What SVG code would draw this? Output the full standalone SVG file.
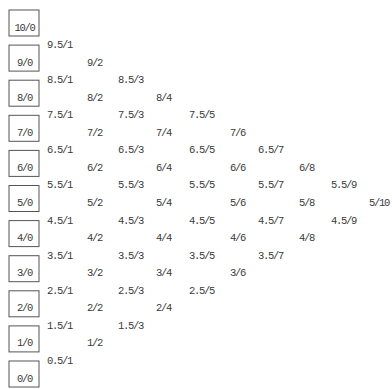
<svg xmlns="http://www.w3.org/2000/svg" width="392" height="389" viewBox="0 0 392 389">
<style>
text{font-family:"Liberation Mono","DejaVu Sans Mono",monospace;font-size:10.5px;letter-spacing:-1.3px;fill:#3a3a3a}
.box rect{fill:#fff;stroke:#555;stroke-width:1}
.box text{text-anchor:middle}
</style>
<rect width="392" height="389" fill="#fff"/>
<g id="boxes">
<g id="n10_0" class="box"><rect x="9" y="10" width="30" height="26"/><text x="24.5" y="30.5">10/0</text></g>
<g id="n9_0" class="box"><rect x="9" y="45.1" width="30" height="26"/><text x="24.5" y="65.6">9/0</text></g>
<g id="n8_0" class="box"><rect x="9" y="80.2" width="30" height="26"/><text x="24.5" y="100.7">8/0</text></g>
<g id="n7_0" class="box"><rect x="9" y="115.3" width="30" height="26"/><text x="24.5" y="135.8">7/0</text></g>
<g id="n6_0" class="box"><rect x="9" y="150.4" width="30" height="26"/><text x="24.5" y="170.9">6/0</text></g>
<g id="n5_0" class="box"><rect x="9" y="185.5" width="30" height="26"/><text x="24.5" y="206">5/0</text></g>
<g id="n4_0" class="box"><rect x="9" y="220.6" width="30" height="26"/><text x="24.5" y="241.1">4/0</text></g>
<g id="n3_0" class="box"><rect x="9" y="255.7" width="30" height="26"/><text x="24.5" y="276.2">3/0</text></g>
<g id="n2_0" class="box"><rect x="9" y="290.8" width="30" height="26"/><text x="24.5" y="311.3">2/0</text></g>
<g id="n1_0" class="box"><rect x="9" y="325.9" width="30" height="26"/><text x="24.5" y="346.4">1/0</text></g>
<g id="n0_0" class="box"><rect x="9" y="361" width="30" height="26"/><text x="24.5" y="381.5">0/0</text></g>
</g>
<g id="col1">
<text x="47" y="48.05">9.5/1</text>
<text x="47" y="83.15">8.5/1</text>
<text x="47" y="118.25">7.5/1</text>
<text x="47" y="153.35">6.5/1</text>
<text x="47" y="188.45">5.5/1</text>
<text x="47" y="223.55">4.5/1</text>
<text x="47" y="258.65">3.5/1</text>
<text x="47" y="293.75">2.5/1</text>
<text x="47" y="328.85">1.5/1</text>
<text x="47" y="363.95">0.5/1</text>
</g>
<g id="col2">
<text x="87" y="65.6">9/2</text>
<text x="87" y="100.7">8/2</text>
<text x="87" y="135.8">7/2</text>
<text x="87" y="170.9">6/2</text>
<text x="87" y="206">5/2</text>
<text x="87" y="241.1">4/2</text>
<text x="87" y="276.2">3/2</text>
<text x="87" y="311.3">2/2</text>
<text x="87" y="346.4">1/2</text>
</g>
<g id="col3">
<text x="118" y="83.15">8.5/3</text>
<text x="118" y="118.25">7.5/3</text>
<text x="118" y="153.35">6.5/3</text>
<text x="118" y="188.45">5.5/3</text>
<text x="118" y="223.55">4.5/3</text>
<text x="118" y="258.65">3.5/3</text>
<text x="118" y="293.75">2.5/3</text>
<text x="118" y="328.85">1.5/3</text>
</g>
<g id="col4">
<text x="156" y="100.7">8/4</text>
<text x="156" y="135.8">7/4</text>
<text x="156" y="170.9">6/4</text>
<text x="156" y="206">5/4</text>
<text x="156" y="241.1">4/4</text>
<text x="156" y="276.2">3/4</text>
<text x="156" y="311.3">2/4</text>
</g>
<g id="col5">
<text x="189" y="118.25">7.5/5</text>
<text x="189" y="153.35">6.5/5</text>
<text x="189" y="188.45">5.5/5</text>
<text x="189" y="223.55">4.5/5</text>
<text x="189" y="258.65">3.5/5</text>
<text x="189" y="293.75">2.5/5</text>
</g>
<g id="col6">
<text x="230" y="135.8">7/6</text>
<text x="230" y="170.9">6/6</text>
<text x="230" y="206">5/6</text>
<text x="230" y="241.1">4/6</text>
<text x="230" y="276.2">3/6</text>
</g>
<g id="col7">
<text x="258" y="153.35">6.5/7</text>
<text x="258" y="188.45">5.5/7</text>
<text x="258" y="223.55">4.5/7</text>
<text x="258" y="258.65">3.5/7</text>
</g>
<g id="col8">
<text x="299" y="170.9">6/8</text>
<text x="299" y="206">5/8</text>
<text x="299" y="241.1">4/8</text>
</g>
<g id="col9">
<text x="331" y="188.45">5.5/9</text>
<text x="331" y="223.55">4.5/9</text>
</g>
<g id="col10">
<text x="369" y="206">5/10</text>
</g>
</svg>
